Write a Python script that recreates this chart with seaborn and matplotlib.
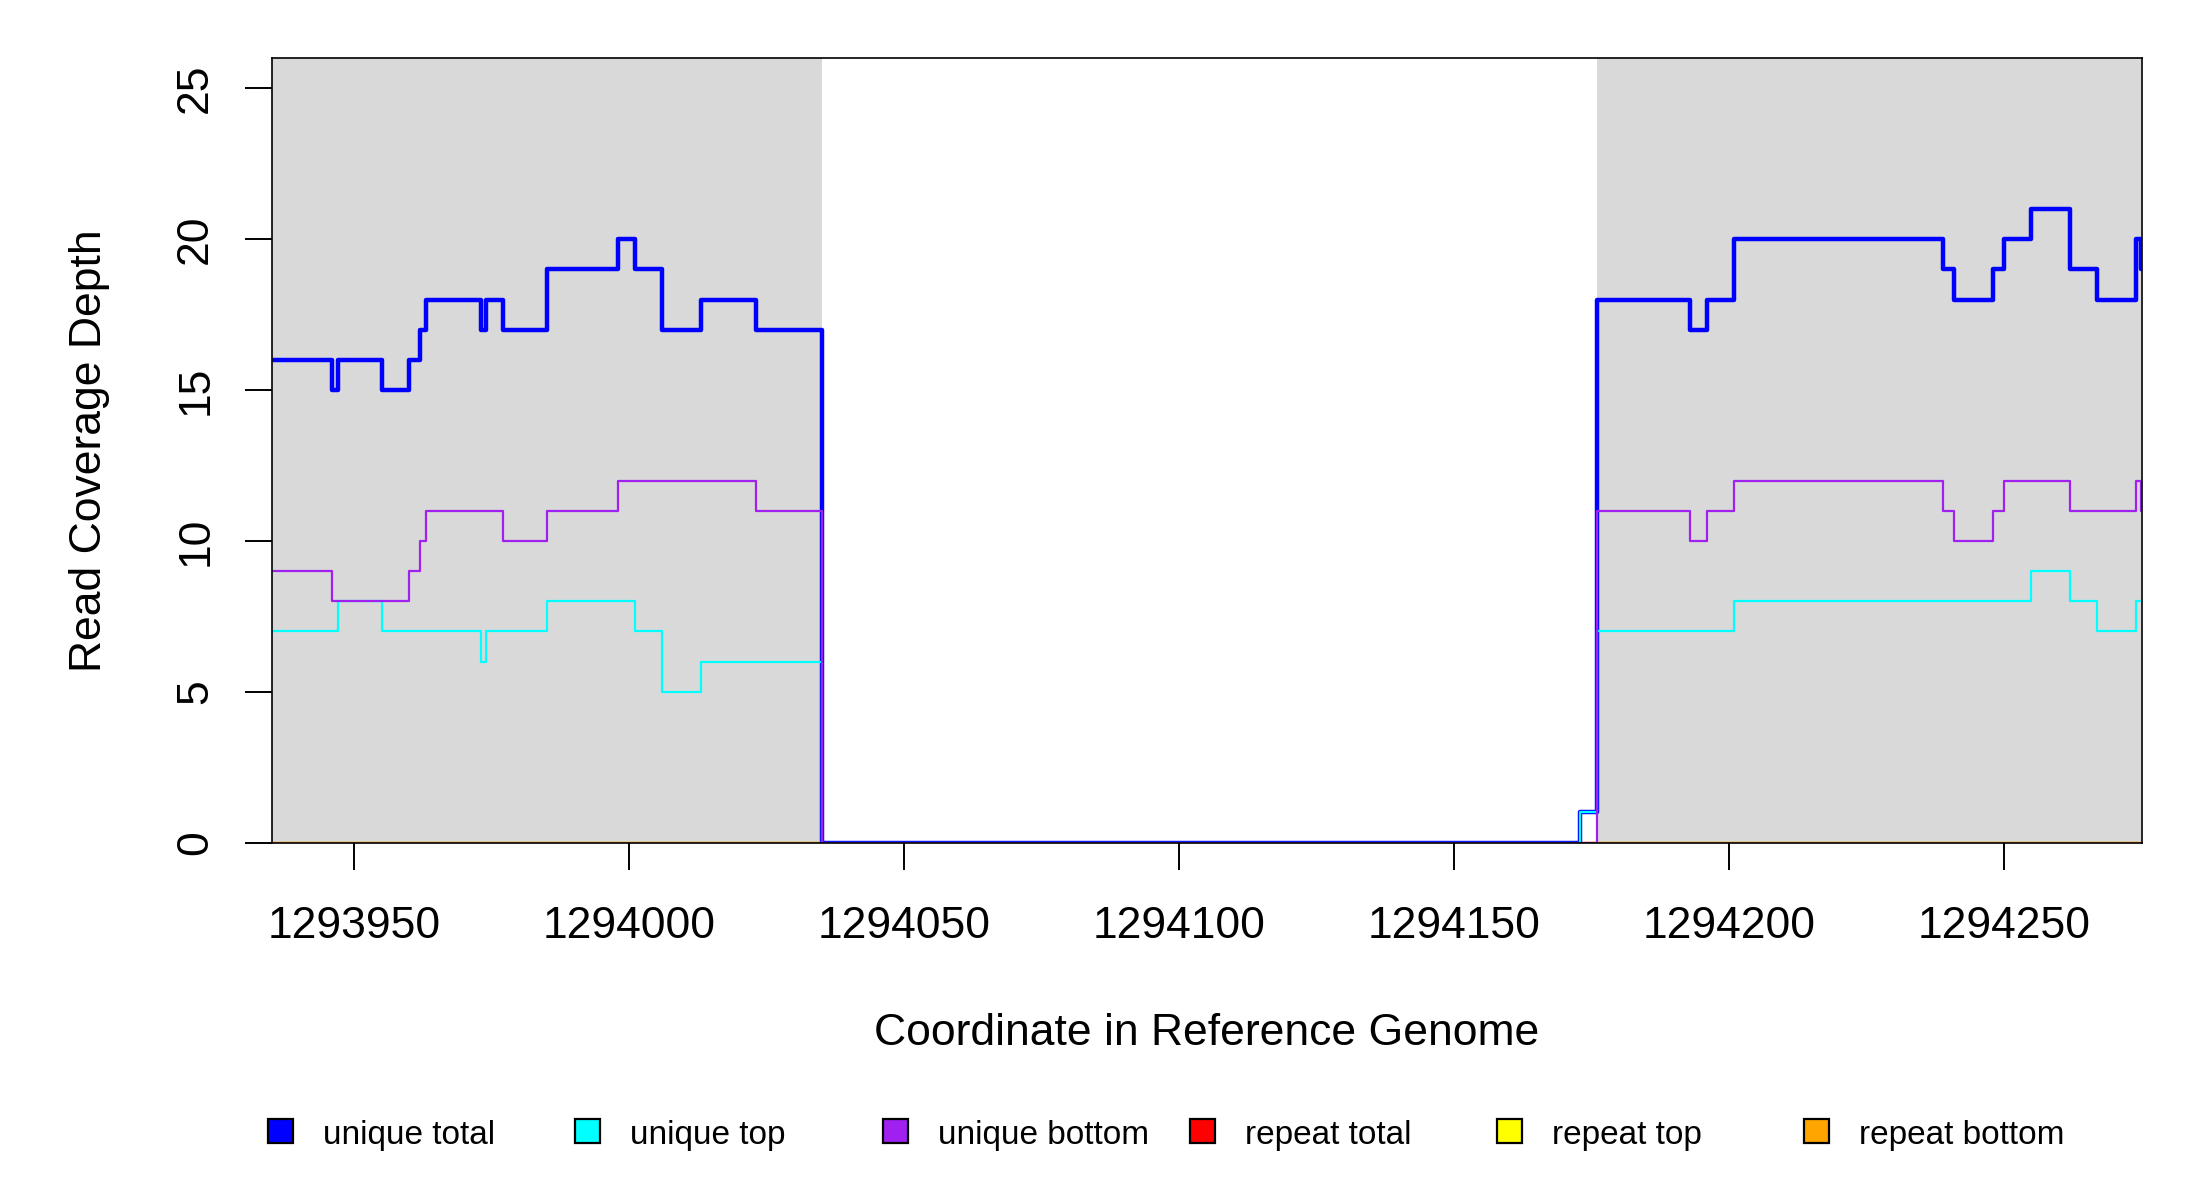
import matplotlib
matplotlib.use("Agg")
import matplotlib.pyplot as plt
from matplotlib.patches import Rectangle
import seaborn as sns
import pandas as pd

# ---------------- data ----------------
positions = [1293935, 1293946, 1293947, 1293955, 1293960, 1293962, 1293963, 1293973,
             1293974, 1293977, 1293985, 1293998, 1294001, 1294006, 1294013, 1294023,
             1294035, 1294173, 1294176, 1294193, 1294196, 1294201, 1294239, 1294241,
             1294248, 1294250, 1294255, 1294262, 1294267, 1294274, 1294275]
unique_total = [16, 15, 16, 15, 16, 17, 18, 17, 18, 17, 19, 20, 19, 17, 18, 17,
                0, 1, 18, 17, 18, 20, 19, 18, 19, 20, 21, 19, 18, 20, 19]
unique_top = [7, 7, 8, 7, 7, 7, 7, 6, 7, 7, 8, 8, 7, 5, 6, 6,
              0, 1, 7, 7, 7, 8, 8, 8, 8, 8, 9, 8, 7, 8, 8]
unique_bottom = [9, 8, 8, 8, 9, 10, 11, 11, 11, 10, 11, 12, 12, 12, 12, 11,
                 0, 0, 11, 10, 11, 12, 11, 10, 11, 12, 12, 11, 11, 12, 11]
repeat_total = [0, 0, 0, 0, 0, 0, 0, 0, 0, 0, 0, 0, 0, 0, 0, 0,
                0, 0, 0, 0, 0, 0, 0, 0, 0, 0, 0, 0, 0, 0, 0]
repeat_top = [0, 0, 0, 0, 0, 0, 0, 0, 0, 0, 0, 0, 0, 0, 0, 0,
              0, 0, 0, 0, 0, 0, 0, 0, 0, 0, 0, 0, 0, 0, 0]
repeat_bottom = [0, 0, 0, 0, 0, 0, 0, 0, 0, 0, 0, 0, 0, 0, 0, 0,
                 0, 0, 0, 0, 0, 0, 0, 0, 0, 0, 0, 0, 0, 0, 0]

series_names = ["unique total", "unique top", "unique bottom",
                "repeat total", "repeat top", "repeat bottom"]
series_colors = ["#0000FF", "#00FFFF", "#A020F0", "#FF0000", "#FFFF00", "#FFA500"]
shaded_start = [1293935, 1294176]
shaded_end = [1294035, 1294275]
x_ticks = [1293950, 1294000, 1294050, 1294100, 1294150, 1294200, 1294250]
y_ticks = [0, 5, 10, 15, 20, 25]

# ---------------- build table ----------------
values = {"unique total": unique_total, "unique top": unique_top,
          "unique bottom": unique_bottom, "repeat total": repeat_total,
          "repeat top": repeat_top, "repeat bottom": repeat_bottom}
frames = []
for name in series_names:
    frames.append(pd.DataFrame({"pos": positions, "depth": values[name], "series": name}))
df = pd.concat(frames, ignore_index=True)

palette = dict(zip(series_names, series_colors))
draw_order = ["repeat total", "repeat top", "repeat bottom",
              "unique total", "unique top", "unique bottom"]
widths = {"unique total": 1.6, "unique top": 0.8, "unique bottom": 0.8,
          "repeat total": 0.8, "repeat top": 0.8, "repeat bottom": 0.8}

# ---------------- plot ----------------
sns.set_style("white")
plt.rcParams["font.family"] = ["Liberation Sans", "DejaVu Sans"]
plt.rcParams["text.color"] = "black"
plt.rcParams["axes.labelcolor"] = "black"
plt.rcParams["xtick.color"] = "black"
plt.rcParams["ytick.color"] = "black"

fig = plt.figure(figsize=(11, 6), dpi=200)
ax = fig.add_axes([0.1235, 0.2978, 0.9735 - 0.1235, 0.9514 - 0.2978])

for s, e in zip(shaded_start, shaded_end):
    ax.axvspan(s, e, color="#D9D9D9", lw=0, zorder=0)

sns.lineplot(data=df, x="pos", y="depth", hue="series", hue_order=draw_order,
             palette=palette, size="series", sizes=widths, size_order=draw_order,
             estimator=None, drawstyle="steps-post", legend=False, ax=ax, zorder=3)

ax.set_xlim(1293935, 1294275.1)
ax.set_ylim(0, 26)
ax.set_xticks(x_ticks)
ax.set_xticklabels([str(t) for t in x_ticks], fontsize=16, color="black")
ax.set_yticks(y_ticks)
ax.set_yticklabels([str(t) for t in y_ticks], fontsize=16, color="black")
for lab in ax.get_yticklabels():
    lab.set_rotation(90)
    lab.set_va("center")
    lab.set_ha("right")

ax.tick_params(axis="x", direction="out", length=9.7, width=0.7, pad=13, bottom=True, colors="black")
ax.tick_params(axis="y", direction="out", length=9.7, width=0.7, pad=10.3, left=True, colors="black")

for sp in ax.spines.values():
    sp.set_visible(True)
    sp.set_color("black")
    sp.set_linewidth(0.6)
    sp.set_zorder(5)

ax.set_xlabel("Coordinate in Reference Genome", fontsize=16, color="black")
ax.set_ylabel("Read Coverage Depth", fontsize=16, color="black")
ax.xaxis.set_label_coords(0.5, -0.217)
ax.yaxis.set_label_coords(-0.0865, 0.5)
ax.grid(False)

# ---------------- legend (horizontal, R style) ----------------
W, H = 2200.0, 1200.0
step = 307.3
for i, (name, col) in enumerate(zip(series_names, series_colors)):
    cx = 280.4 + i * step
    cy = 1131.0
    fig.patches.append(Rectangle(((cx - 12.5) / W, 1 - (cy + 12) / H), 25 / W, 24 / H,
                                 transform=fig.transFigure, facecolor=col,
                                 edgecolor="black", linewidth=0.8))
    fig.text((cx + 42.5) / W, 1 - 1144 / H, name, fontsize=12, ha="left",
             va="baseline", color="black")

fig.savefig("out.png", dpi=200, facecolor="white")
